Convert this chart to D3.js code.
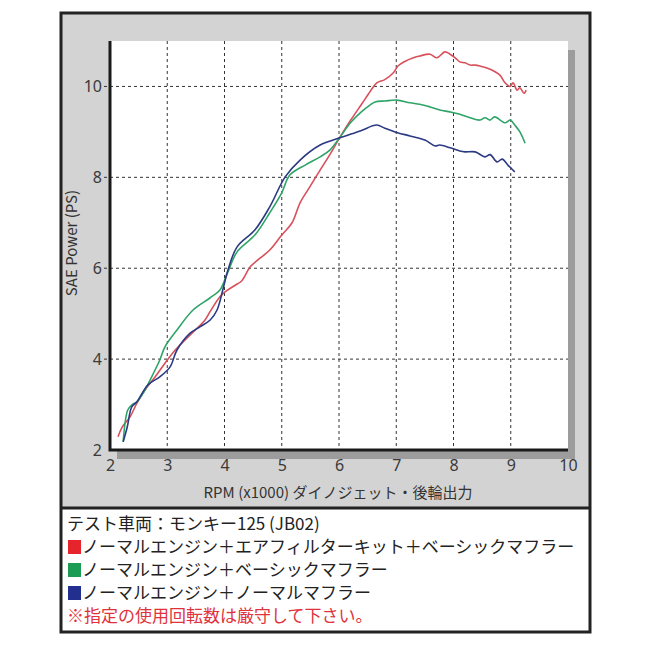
<!DOCTYPE html>
<html>
<head>
<meta charset="utf-8">
<script src="https://cdn.jsdelivr.net/npm/d3@7"></script>
<style>
  html, body { margin: 0; padding: 0; background: #fff; }
  svg { display: block; font-family: "Noto Sans CJK JP", "Noto Sans", sans-serif; }
</style>
</head>
<body>
<svg id="chart" width="650" height="650"></svg>
<script>
// values: rpm (x1000) / SAE power (PS)
const redRpm = [2.14, 2.21, 2.35, 2.47, 2.61, 2.79, 2.96, 3.14, 3.4, 3.66, 3.75, 3.92, 4.01, 4.18, 4.3, 4.45, 4.62, 4.79, 5.0, 5.18, 5.32, 5.49, 5.67, 5.84, 6.02, 6.2, 6.4, 6.55, 6.66, 6.8, 6.95, 7.03, 7.15, 7.3, 7.41, 7.59, 7.71, 7.85, 7.94, 8.03, 8.11, 8.2, 8.29, 8.38, 8.46, 8.64, 8.81, 8.9, 8.99, 9.04, 9.11, 9.16, 9.23, 9.27]
const redPs = [2.29, 2.5, 2.73, 3.03, 3.32, 3.61, 3.91, 4.2, 4.53, 4.86, 5.05, 5.37, 5.48, 5.62, 5.72, 6.03, 6.22, 6.4, 6.73, 7.0, 7.44, 7.79, 8.16, 8.5, 8.89, 9.25, 9.62, 9.9, 10.08, 10.15, 10.3, 10.45, 10.55, 10.63, 10.67, 10.71, 10.63, 10.76, 10.71, 10.63, 10.54, 10.52, 10.47, 10.47, 10.45, 10.38, 10.25, 10.08, 10.0, 10.08, 9.92, 9.97, 9.85, 9.92]

const greenRpm = [2.23, 2.31, 2.38, 2.47, 2.58, 2.7, 2.87, 2.96, 3.17, 3.45, 3.75, 3.92, 4.06, 4.22, 4.53, 4.79, 5.0, 5.14, 5.41, 5.67, 5.84, 6.02, 6.2, 6.4, 6.54, 6.63, 6.8, 7.01, 7.24, 7.41, 7.59, 7.76, 7.94, 8.11, 8.29, 8.46, 8.55, 8.64, 8.72, 8.9, 8.99, 9.07, 9.16, 9.25]
const greenPs = [2.18, 2.88, 2.99, 3.06, 3.25, 3.54, 3.98, 4.27, 4.64, 5.08, 5.35, 5.52, 5.92, 6.36, 6.73, 7.22, 7.66, 8.05, 8.27, 8.45, 8.6, 8.89, 9.2, 9.45, 9.59, 9.66, 9.68, 9.7, 9.64, 9.61, 9.55, 9.48, 9.44, 9.39, 9.31, 9.26, 9.31, 9.26, 9.33, 9.2, 9.26, 9.15, 9.0, 8.75]

const blueRpm = [2.23, 2.3, 2.38, 2.47, 2.66, 2.87, 3.05, 3.17, 3.4, 3.57, 3.75, 3.87, 3.97, 4.06, 4.22, 4.53, 4.79, 5.06, 5.32, 5.67, 6.02, 6.37, 6.66, 6.8, 6.98, 7.24, 7.5, 7.68, 7.76, 7.94, 8.11, 8.2, 8.38, 8.55, 8.64, 8.76, 8.85, 8.95, 9.07]
const bluePs = [2.18, 2.5, 2.95, 3.06, 3.43, 3.61, 3.83, 4.2, 4.57, 4.71, 4.86, 5.08, 5.52, 5.96, 6.47, 6.84, 7.35, 8.01, 8.38, 8.71, 8.87, 9.02, 9.15, 9.08, 9.0, 8.91, 8.82, 8.69, 8.71, 8.65, 8.58, 8.56, 8.56, 8.45, 8.5, 8.34, 8.4, 8.27, 8.12]

const xTicks = [2, 3, 4, 5, 6, 7, 8, 9, 10]
const yTicks = [2, 4, 6, 8, 10]

const legendTitle = 'テスト車両：モンキー125 (JB02)'
const legendItems = [
  'ノーマルエンジン＋エアフィルターキット＋ベーシックマフラー',
  'ノーマルエンジン＋ベーシックマフラー',
  'ノーマルエンジン＋ノーマルマフラー',
]
const legendColors = ['#e5242b', '#1c9b55', '#222f8f']
const lineColors = ['#d8505a', '#2fa468', '#2b3a82']
const note = '※指定の使用回転数は厳守して下さい。'

const svg = d3.select('#chart')

const plotL = 110
const plotR = 568
const plotT = 41
const plotB = 450

const x = d3.scaleLinear().domain([2, 10]).range([plotL, plotR])
const y = d3.scaleLinear().domain([2, 11]).range([plotB, plotT])

// frame
svg.append('rect')
  .attr('x', 61).attr('y', 13)
  .attr('width', 529).attr('height', 495)
  .attr('fill', '#d3d3d3')
svg.append('rect')
  .attr('x', 61).attr('y', 508)
  .attr('width', 529).attr('height', 124)
  .attr('fill', '#fff')
svg.append('rect')
  .attr('x', 61).attr('y', 13)
  .attr('width', 529).attr('height', 619)
  .attr('fill', 'none')
  .attr('stroke', '#222')
  .attr('stroke-width', 3)
svg.append('line')
  .attr('x1', 61).attr('x2', 590)
  .attr('y1', 508).attr('y2', 508)
  .attr('stroke', '#222')
  .attr('stroke-width', 3)

// plot shadow + white area
svg.append('rect')
  .attr('x', plotL + 7).attr('y', plotT + 9)
  .attr('width', plotR - plotL).attr('height', plotB - plotT)
  .attr('fill', '#9c9c9c')
svg.append('rect')
  .attr('x', plotL).attr('y', plotT)
  .attr('width', plotR - plotL).attr('height', plotB - plotT)
  .attr('fill', '#fff')

// grid
const grid = svg.append('g')
  .attr('stroke', '#333')
  .attr('stroke-width', 1)
  .attr('stroke-dasharray', '3,3')
grid.selectAll('line.v')
  .data(xTicks.filter((d) => d > 2 && d < 10))
  .join('line')
  .attr('class', 'v')
  .attr('x1', (d) => x(d)).attr('x2', (d) => x(d))
  .attr('y1', plotT).attr('y2', plotB)
grid.selectAll('line.h')
  .data(yTicks.filter((d) => d > 2))
  .join('line')
  .attr('class', 'h')
  .attr('x1', plotL - 6).attr('x2', plotR)
  .attr('y1', (d) => y(d)).attr('y2', (d) => y(d))

// curves
const series = [
  [redRpm, redPs],
  [greenRpm, greenPs],
  [blueRpm, bluePs],
]
const line = d3.line()
  .x((d) => x(d[0]))
  .y((d) => y(d[1]))
  .curve(d3.curveCatmullRom.alpha(0.5))

svg.append('g')
  .selectAll('path')
  .data(series)
  .join('path')
  .attr('d', (s) => line(d3.zip(s[0], s[1])))
  .attr('fill', 'none')
  .attr('stroke', (_, i) => lineColors[i])
  .attr('stroke-width', 1.6)
  .attr('stroke-linejoin', 'round')

// axes (thick black lines + labels)
svg.append('path')
  .attr('d', `M${plotL},${plotT}V${plotB}H${plotR}`)
  .attr('fill', 'none')
  .attr('stroke', '#1a1a1a')
  .attr('stroke-width', 3)

const xAxis = d3.axisBottom(x).tickValues(xTicks).tickSize(0).tickPadding(9)
svg.append('g')
  .attr('transform', `translate(0,${plotB + 1})`)
  .call(xAxis)
  .call((g) => g.select('.domain').remove())
  .selectAll('text')
  .attr('font-size', 16)
  .attr('fill', '#3a3a3a')
  .attr('font-family', '"Noto Sans", sans-serif')

const yAxis = d3.axisLeft(y).tickValues(yTicks).tickSize(0).tickPadding(7)
svg.append('g')
  .attr('transform', `translate(${plotL - 1},0)`)
  .call(yAxis)
  .call((g) => g.select('.domain').remove())
  .selectAll('text')
  .attr('font-size', 16)
  .attr('fill', '#3a3a3a')
  .attr('font-family', '"Noto Sans", sans-serif')

svg.append('text')
  .attr('transform', 'translate(77,243) rotate(-90)')
  .attr('text-anchor', 'middle')
  .attr('font-size', 15)
  .attr('fill', '#333')
  .text('SAE Power (PS)')

svg.append('text')
  .attr('x', 338).attr('y', 498)
  .attr('text-anchor', 'middle')
  .attr('font-size', 15)
  .attr('fill', '#333')
  .text('RPM (x1000) ダイノジェット・後輪出力')

// legend
const lg = svg.append('g').attr('font-size', 17)
lg.append('text')
  .attr('x', 67).attr('y', 530)
  .attr('fill', '#222')
  .text(legendTitle)
legendItems.forEach((t, i) => {
  const yy = 553 + i * 23
  lg.append('rect')
    .attr('x', 68).attr('y', yy - 13)
    .attr('width', 13).attr('height', 14)
    .attr('fill', legendColors[i])
  lg.append('text')
    .attr('x', 82).attr('y', yy)
    .attr('fill', '#222')
    .text(t)
})
lg.append('text')
  .attr('x', 67).attr('y', 622)
  .attr('fill', '#e0323c')
  .text(note)
</script>
</body>
</html>
